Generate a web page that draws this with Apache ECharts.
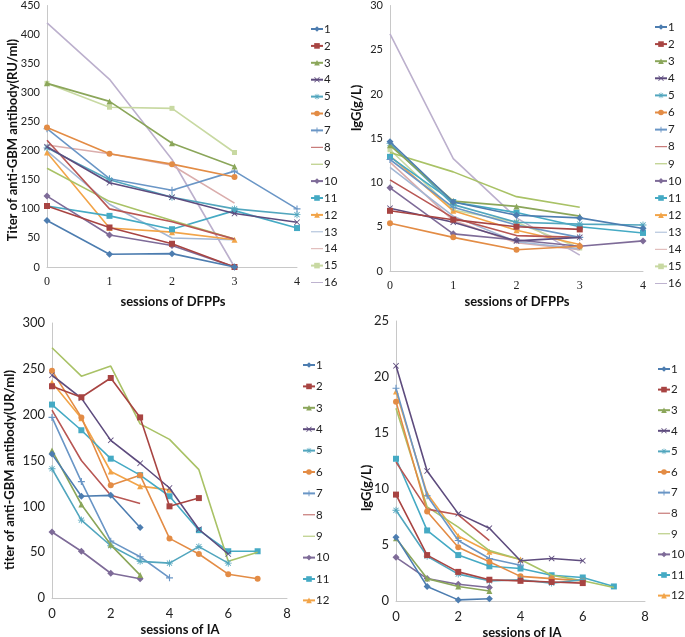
<!DOCTYPE html>
<html><head><meta charset="utf-8">
<script src="https://cdn.jsdelivr.net/npm/echarts@6/dist/echarts.min.js"></script>
<style>body{margin:0;background:#fff;width:685px;height:637px;overflow:hidden}.c{position:absolute}</style>
</head><body>
<div id="pa" class="c" style="left:0;top:0;width:345px;height:312px"></div>
<div id="pb" class="c" style="left:345px;top:0;width:340px;height:312px"></div>
<div id="pc" class="c" style="left:0;top:312px;width:345px;height:325px"></div>
<div id="pd" class="c" style="left:345px;top:312px;width:340px;height:325px"></div>
<script>
// ---------- data ----------
const patients16 = ['1','2','3','4','5','6','7','8','9','10','11','12','13','14','15','16'];
const patients12 = ['1','2','3','4','5','6','7','8','9','10','11','12'];
const dfppSessions = [0,1,2,3,4];
const iaSessions = [0,2,4,6,8];
// anti-GBM titer during DFPP sessions (RU/ml), index = session
const dfppTiter = [
  [80, 22, 23, 0],
  [105, 68, 40, 0],
  [316, 285, 213, 173],
  [207, 145, 120, 92, 77],
  [205, 150, 120, 100, 90],
  [240, 195, 177, 155],
  [238, 152, 132, 165, 100],
  [218, 100, 78, 48],
  [170, 113, 80, 48],
  [122, 55, 37, 0],
  [105, 88, 65, 97, 67],
  [197, 67, 60, 47],
  [200, 108, 50, 47],
  [210, 195, 175, 110],
  [316, 275, 273, 197],
  [420, 323, 185, 0]
];
// IgG during DFPP sessions (g/L)
const dfppIgG = [
  [14.6, 7.8, 6.3, 6.0, 4.8],
  [6.8, 5.8, 5.0, 4.7],
  [14.2, 7.9, 7.3, 6.2],
  [7.1, 5.5, 3.4, 3.8],
  [14.4, 7.5, 5.5, 5.3, 5.2],
  [5.4, 3.8, 2.4, 2.8],
  [12.6, 7.2, 5.2, 3.8],
  [10.3, 6.0, 4.0, 3.8],
  [13.4, 11.2, 8.4, 7.2],
  [9.4, 4.2, 3.5, 2.8, 3.4],
  [12.9, 7.8, 6.6, 5.0, 4.3],
  [13.0, 6.8, 4.6, 3.0],
  [11.7, 6.2, 3.3, 2.5],
  [12.3, 5.7, 3.2, 2.4],
  [13.7, 6.9, 5.5, 2.6],
  [26.8, 12.7, 6.0, 1.8]
];
// anti-GBM titer during IA sessions (UR/ml)
const iaTiter = [
  [157, 111, 112, 77],
  [231, 219, 240, 197, 100, 109],
  [161, 102, 58, 25],
  [243, 218, 172, 147, 120, 75, 48],
  [141, 85, 57, 40, 38, 56, 38],
  [248, 197, 123, 134, 65, 48, 26, 21],
  [197, 127, 62, 45, 22],
  [205, 150, 112, 103],
  [273, 242, 253, 190, 173, 140, 40, 50],
  [72, 51, 27, 21],
  [211, 183, 152, 134, 111, 74, 51, 51],
  [235, 196, 138, 122, 118]
];
// IgG during IA sessions (g/L)
const iaIgG = [
  [5.7, 1.3, 0.1, 0.2],
  [9.5, 4.1, 2.6, 1.9, 1.8, 1.7, 1.6],
  [5.6, 2.0, 1.3, 0.9],
  [21.0, 11.6, 7.8, 6.5, 3.6, 3.8, 3.6],
  [8.1, 4.0, 2.4, 1.8, 1.9, 1.6, 1.9],
  [17.8, 8.0, 4.8, 3.5, 2.2, 2.0, 1.8],
  [19.0, 9.4, 5.4, 3.8, 3.2],
  [12.4, 8.2, 7.7, 5.4],
  [17.2, 8.4, 6.6, 4.5, 3.7, 2.3, 1.8, 1.2],
  [3.9, 2.0, 1.5, 1.2],
  [12.7, 6.3, 4.1, 3.1, 2.9, 2.3, 2.1, 1.3],
  [18.7, 9.6, 5.8, 4.4, 3.7]
];

// ---------- styles ----------
const colors = ['#4D7DB0','#A84442','#8BA65A','#5E4C7E','#52A6BE','#E38C45','#6A96C6','#B85754',
                '#A9C266','#7E6B98','#45AAC4','#F2A448','#A3B7D4','#DAADAC','#C8D9A2','#BCB0CD'];
const X = 'path://M0,1L1,0L5,4L9,0L10,1L6,5L10,9L9,10L5,6L1,10L0,9L4,5Z';
const PLUS = 'path://M4.2,0H5.8V4.2H10V5.8H5.8V10H4.2V5.8H0V4.2H4.2Z';
const STAR = 'path://M4.4,0H5.6V3.6L8.3,0.9 9.1,1.7 6.4,4.4H10V5.6H6.4L9.1,8.3 8.3,9.1 5.6,6.4V10H4.4V6.4L1.7,9.1 0.9,8.3 3.6,5.6H0V4.4H3.6L0.9,1.7 1.7,0.9 4.4,3.6Z';
const LINEICON = 'path://M0,0M0,10M0,4.2H20V5.8H0Z';
const symbols = ['diamond','rect','triangle',X,STAR,'circle',PLUS,'none','none','diamond','rect','triangle','none','none','rect','none'];
const symSizes = [7,6,6,6,7,6,7,0,0,7,6,6,0,0,5,0];
const SANS = 'Lato, "Open Sans", sans-serif';
const SERIF = '"Liberation Serif", "DejaVu Serif", serif';

function panel(el, cfg) {
  const chart = echarts.init(document.getElementById(el), null, {renderer: 'canvas'});
  const series = cfg.data.map((arr, i) => ({
    name: cfg.names[i], type: 'line',
    data: arr.map((v, k) => [k, v]),
    symbol: symbols[i], symbolSize: symSizes[i], showSymbol: symbols[i] !== 'none',
    itemStyle: {color: colors[i]},
    lineStyle: {color: colors[i], width: 1.6},
    emphasis: {disabled: true}, z: 2 + (cfg.data.length - i) / 100
  }));
  const legendData = cfg.names.map((n, i) => symbols[i] === 'none' ? {name: n, icon: LINEICON} : {name: n});
  chart.setOption({
    animation: false,
    textStyle: {fontFamily: SANS},
    grid: cfg.grid,
    xAxis: {type: 'value', min: 0, max: cfg.xMax, interval: cfg.xInterval,
      axisLine: {show: true, lineStyle: {color: '#c8c8c8', width: 1}},
      axisTick: {show: false}, splitLine: {show: false},
      axisLabel: {color: '#222', fontSize: cfg.xFontSize, fontFamily: cfg.xFont, margin: cfg.xMargin}},
    yAxis: {type: 'value', min: 0, max: cfg.yMax, interval: cfg.yInterval,
      axisLine: {show: true, lineStyle: {color: '#c8c8c8', width: 1}},
      axisTick: {show: false}, splitLine: {show: false},
      axisLabel: {color: '#222', fontSize: cfg.yFontSize, fontFamily: SANS, margin: 7}},
    legend: {orient: 'vertical', left: cfg.legend.left, top: cfg.legend.top,
      itemWidth: 12, itemHeight: 7, itemGap: cfg.legend.gap, padding: 0,
      data: legendData, selectedMode: false,
      textStyle: {fontSize: 11.5, color: '#222', fontFamily: SANS, lineHeight: 12, padding: [0,0,0,-4]}},
    graphic: [
      {type: 'text', x: cfg.yTitle.x, y: cfg.yTitle.y, rotation: Math.PI / 2,
        style: {text: cfg.yTitle.text, font: 'bold 13px ' + SANS, fill: '#111', textAlign: 'center', textVerticalAlign: 'middle'}},
      {type: 'text', x: cfg.xTitle.x, y: cfg.xTitle.y,
        style: {text: cfg.xTitle.text, font: 'bold 13px ' + SANS, fill: '#111', textAlign: 'center', textVerticalAlign: 'middle'}}
    ],
    series
  });
}

panel('pa', {
  grid: {left: 47, top: 5, width: 250, height: 262},
  xMax: 4, xInterval: 1, yMax: 450, yInterval: 50,
  xFont: SERIF, xFontSize: 12, xMargin: 9, yFontSize: 11,
  names: patients16, data: dfppTiter,
  legend: {left: 310, top: 23, gap: 4.9},
  yTitle: {text: 'Titer of anti-GBM antibody(RU/ml)', x: 13, y: 140},
  xTitle: {text: 'sessions of DFPPs', x: 173, y: 302}
});
panel('pb', {
  grid: {left: 45, top: 3, width: 253, height: 268},
  xMax: 4, xInterval: 1, yMax: 30, yInterval: 5,
  xFont: SERIF, xFontSize: 12, xMargin: 9, yFontSize: 11,
  names: patients16, data: dfppIgG,
  legend: {left: 309, top: 21, gap: 5.1},
  yTitle: {text: 'IgG(g/L)', x: 12, y: 108},
  xTitle: {text: 'sessions of DFPPs', x: 172, y: 302}
});
panel('pc', {
  grid: {left: 52, top: 11, width: 235, height: 275},
  xMax: 8, xInterval: 2, yMax: 300, yInterval: 50,
  xFont: SANS, xFontSize: 13, xMargin: 9, yFontSize: 13,
  names: patients12, data: iaTiter,
  legend: {left: 302, top: 47, gap: 9.4},
  yTitle: {text: 'titer of anti-GBM antibody(UR/ml)', x: 10, y: 158},
  xTitle: {text: 'sessions of IA', x: 180, y: 318}
});
panel('pd', {
  grid: {left: 51, top: 9, width: 249, height: 280},
  xMax: 8, xInterval: 2, yMax: 25, yInterval: 5,
  xFont: SANS, xFontSize: 13, xMargin: 9, yFontSize: 13,
  names: patients12, data: iaIgG,
  legend: {left: 312, top: 51, gap: 8.6},
  yTitle: {text: 'IgG(g/L)', x: 22, y: 176},
  xTitle: {text: 'sessions of IA', x: 177, y: 321}
});
</script>
</body></html>
